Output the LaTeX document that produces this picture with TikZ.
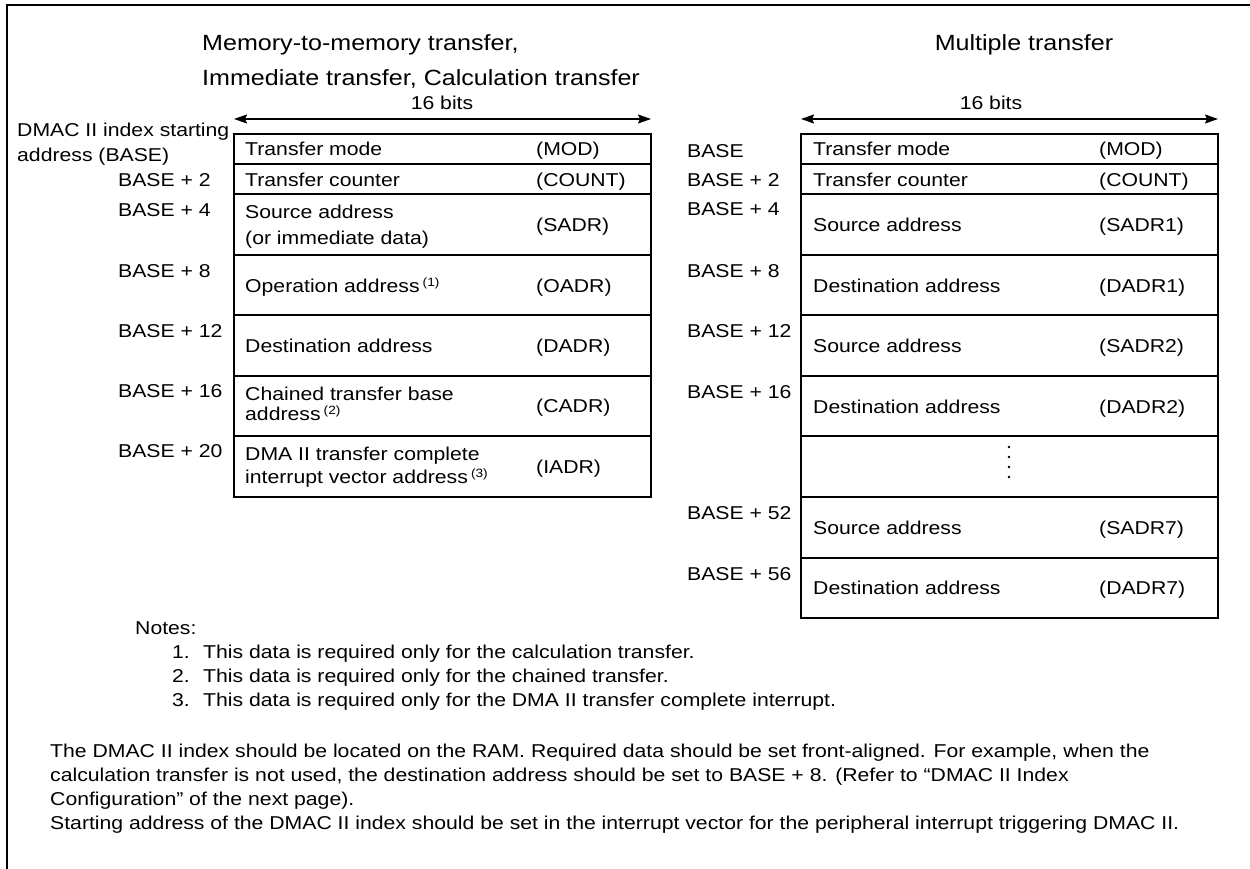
\documentclass[tikz,border=0pt]{standalone}
\usepackage{fontspec}
\setmainfont{Liberation Sans}[FakeStretch=1.14]
\usetikzlibrary{arrows.meta}
\begin{document}
\begin{tikzpicture}[x=1pt,y=-1pt,
  tbl/.style={line width=1.5pt},
  txt/.style={anchor=base west,inner sep=0pt,font=\fontsize{18.6}{24}\selectfont},
  ctxt/.style={anchor=base,inner sep=0pt,font=\fontsize{18.6}{24}\selectfont},
  ttl/.style={anchor=base west,inner sep=0pt,font=\fontsize{22}{38}\selectfont},
  cttl/.style={anchor=base,inner sep=0pt,font=\fontsize{22}{38}\selectfont},
  dimarrow/.style={line width=1.5pt,{Stealth[length=13pt,width=9pt,inset=2pt]}-{Stealth[length=13pt,width=9pt,inset=2pt]}},
  dot/.style={circle,fill=black,inner sep=0pt,minimum size=2.8pt}
]
\newcommand{\fnref}[1]{\,{\fontsize{12}{12}\selectfont\raisebox{6pt}{(#1)}}}
\useasboundingbox (0,0) rectangle (1250,869);
% frame
\draw[line width=2.5pt] (7,869) -- (7,5) -- (1250,5);

% titles
\node[ttl] (t1) at (202,51) {Memory-to-memory transfer,};
\node[ttl] (t2) at (202,86) {Immediate transfer, Calculation transfer};
\node[cttl] (t3) at (1024,51) {Multiple transfer};

% 16 bits arrows
\node[ctxt] (lbits) at (442,110) {16 bits};
\node[ctxt] (rbits) at (991,110) {16 bits};
\coordinate (la) at (234,119);
\coordinate (lb) at (651,119);
\coordinate (ra) at (801,119);
\coordinate (rb) at (1218,119);
\draw[dimarrow] (la) -- (lb);
\draw[dimarrow] (ra) -- (rb);

% left table
\draw[tbl] (234,134) rectangle (651,497);
\foreach \yy in {164,194,255,315,376,436} \draw[tbl] (234,\yy) -- (651,\yy);

% right table
\draw[tbl] (801,134) rectangle (1218,618);
\foreach \yy in {164,194,255,315,376,436,497,558} \draw[tbl] (801,\yy) -- (1218,\yy);

% left labels
\node[txt] (ls1) at (17,137) {DMAC II index starting};
\node[txt] (ls2) at (17,162) {address (BASE)};
\node[txt] (l2) at (118,187) {BASE + 2};
\node[txt] (l4) at (118,216.5) {BASE + 4};
\node[txt] (l8) at (118,277) {BASE + 8};
\node[txt] (l12) at (118,337) {BASE + 12};
\node[txt] (l16) at (118,397) {BASE + 16};
\node[txt] (l20) at (118,457) {BASE + 20};

% left cells
\node[txt] (c1) at (245,156) {Transfer mode};
\node[txt] (a1) at (536,156) {(MOD)};
\node[txt] (c2) at (245,186.5) {Transfer counter};
\node[txt] (a2) at (536,186.5) {(COUNT)};
\node[txt] (c3a) at (245,218.5) {Source address};
\node[txt] (c3b) at (245,244) {(or immediate data)};
\node[txt] (a3) at (536,231.5) {(SADR)};
\node[txt] (c4) at (245,292) {Operation address\fnref{1}};
\node[txt] (a4) at (536,292) {(OADR)};
\node[txt] (c5) at (245,352) {Destination address};
\node[txt] (a5) at (536,352) {(DADR)};
\node[txt] (c6a) at (245,400) {Chained transfer base};
\node[txt] (c6b) at (245,420) {address\fnref{2}};
\node[txt] (a6) at (536,412) {(CADR)};
\node[txt] (c7a) at (245,460) {DMA II transfer complete};
\node[txt] (c7b) at (245,483) {interrupt vector address\fnref{3}};
\node[txt] (a7) at (536,473) {(IADR)};

% right labels
\node[txt] (r0) at (687,157.5) {BASE};
\node[txt] (r2) at (687,186.5) {BASE + 2};
\node[txt] (r4) at (687,216) {BASE + 4};
\node[txt] (r8) at (687,277) {BASE + 8};
\node[txt] (r12) at (687,337) {BASE + 12};
\node[txt] (r16) at (687,398) {BASE + 16};
\node[txt] (r52) at (687,519) {BASE + 52};
\node[txt] (r56) at (687,580) {BASE + 56};

% right cells
\node[txt] (d1) at (813,156) {Transfer mode};
\node[txt] (b1) at (1099,156) {(MOD)};
\node[txt] (d2) at (813,186.5) {Transfer counter};
\node[txt] (b2) at (1099,186.5) {(COUNT)};
\node[txt] (d3) at (813,231) {Source address};
\node[txt] (b3) at (1099,231) {(SADR1)};
\node[txt] (d4) at (813,292) {Destination address};
\node[txt] (b4) at (1099,292) {(DADR1)};
\node[txt] (d5) at (813,352) {Source address};
\node[txt] (b5) at (1099,352) {(SADR2)};
\node[txt] (d6) at (813,413) {Destination address};
\node[txt] (b6) at (1099,413) {(DADR2)};
\node[dot] (p1) at (1009,447) {};
\node[dot] (p2) at (1009,457) {};
\node[dot] (p3) at (1009,467) {};
\node[dot] (p4) at (1009,477) {};
\node[txt] (d7) at (813,534) {Source address};
\node[txt] (b7) at (1099,534) {(SADR7)};
\node[txt] (d8) at (813,594.5) {Destination address};
\node[txt] (b8) at (1099,594.5) {(DADR7)};

% notes
\node[txt] (notes) at (135,634) {Notes:};
\node[txt] (n1) at (172,658) {1.};
\node[txt] (n1t) at (203,658) {This data is required only for the calculation transfer.};
\node[txt] (n2) at (172,682) {2.};
\node[txt] (n2t) at (203,682) {This data is required only for the chained transfer.};
\node[txt] (n3) at (172,706) {3.};
\node[txt] (n3t) at (203,706) {This data is required only for the DMA II transfer complete interrupt.};

\node[txt] (pa) at (50,757) {The DMAC II index should be located on the RAM. Required data should be set front-aligned. For example, when the};
\node[txt] (pb) at (50,781) {calculation transfer is not used, the destination address should be set to BASE + 8. (Refer to “DMAC II Index};
\node[txt] (pc) at (50,805) {Configuration” of the next page).};
\node[txt] (pd) at (50,829) {Starting address of the DMAC II index should be set in the interrupt vector for the peripheral interrupt triggering DMAC II.};
\end{tikzpicture}
\end{document}
